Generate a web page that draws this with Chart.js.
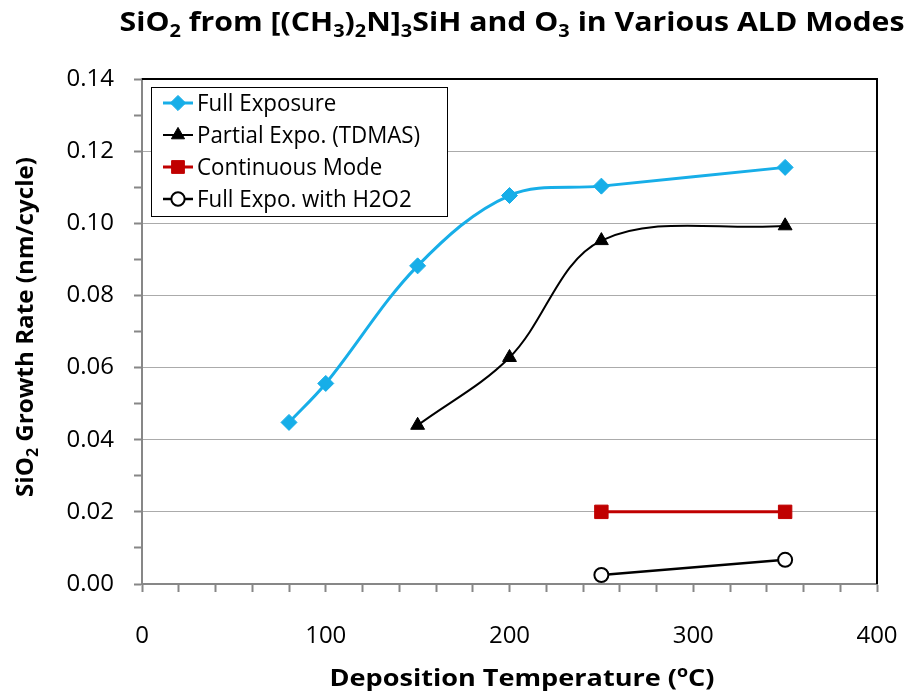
<!DOCTYPE html>
<html>
<head>
<meta charset="utf-8">
<script src="https://cdn.jsdelivr.net/npm/chart.js@4/dist/chart.umd.min.js"></script>
<style>
  html, body { margin: 0; padding: 0; background: #fff; }
  #wrap { width: 911px; height: 691px; }
</style>
</head>
<body>
<div id="wrap"><canvas id="chart" width="911" height="691"></canvas></div>
<script>
// data
const fullTemps = [80, 100, 150, 200, 250, 350];
const fullRates = [0.0448, 0.0556, 0.0882, 0.1077, 0.1103, 0.1155];
const partialTemps = [150, 200, 250, 350];
const partialRates = [0.0440, 0.0628, 0.0952, 0.0993];
const contTemps = [250, 350];
const contRates = [0.0200, 0.0200];
const h2o2Temps = [250, 350];
const h2o2Rates = [0.0025, 0.0067];

const seriesNames = ['Full Exposure', 'Partial Expo. (TDMAS)', 'Continuous Mode', 'Full Expo. with H2O2'];

// rich text pieces: [text, 0 normal | 1 subscript | 2 superscript]
const titleParts = [['SiO', 0], ['2', 1], [' from [(CH', 0], ['3', 1], [')', 0], ['2', 1], ['N]', 0], ['3', 1],
  ['SiH and O', 0], ['3', 1], [' in Various ALD Modes', 0]];
const xTitleParts = [['Deposition Temperature (', 0], ['o', 2], ['C)', 0]];
const yTitleParts = [['SiO', 0], ['2', 1], [' Growth Rate (nm/cycle)', 0]];

const FONT = '"Open Sans", "Liberation Sans", sans-serif';

const toXY = (xs, ys) => xs.map((x, i) => ({ x: x, y: ys[i] }));

function richWidth(ctx, parts, size) {
    let w = 0;
    parts.forEach(p => {
        ctx.font = 'bold ' + (p[1] ? size * 0.66 : size) + 'px ' + FONT;
        w += ctx.measureText(p[0]).width;
    });
    return w;
}

// draws centred on cx, squeezed or stretched horizontally to fit width
function drawRich(ctx, parts, size, cx, baseline, width) {
    const w = richWidth(ctx, parts, size);
    ctx.save();
    ctx.translate(cx, baseline);
    ctx.scale(width / w, 1);
    let x = -w / 2;
    ctx.textAlign = 'left';
    ctx.textBaseline = 'alphabetic';
    parts.forEach(p => {
        const s = p[1] ? size * 0.66 : size;
        ctx.font = 'bold ' + s + 'px ' + FONT;
        let dy = 0;
        if (p[1] === 1) dy = size * 0.22;
        if (p[1] === 2) dy = -size * 0.36;
        ctx.fillText(p[0], x, dy);
        x += ctx.measureText(p[0]).width;
    });
    ctx.restore();
}

// title, axis titles, black top/right frame and the boxed legend
const decorPlugin = {
    id: 'decor',
    afterDraw(chart) {
        const ctx = chart.ctx;
        const a = chart.chartArea;
        ctx.save();
        ctx.fillStyle = '#000';
        drawRich(ctx, titleParts, 27, 512, 31, 785);
        drawRich(ctx, xTitleParts, 24, 522, 686, 385);
        ctx.save();
        ctx.translate(33, 327);
        ctx.rotate(-Math.PI / 2);
        drawRich(ctx, yTitleParts, 24, 0, 0, 340);
        ctx.restore();

        // frame top and right
        ctx.strokeStyle = '#000';
        ctx.lineWidth = 2;
        ctx.beginPath();
        ctx.moveTo(a.left, a.top);
        ctx.lineTo(a.right, a.top);
        ctx.lineTo(a.right, a.bottom);
        ctx.stroke();

        // legend
        const lx = a.left + 9, ly = a.top + 8, lw = 296, lh = 129;
        ctx.fillStyle = '#fff';
        ctx.fillRect(lx, ly, lw, lh);
        ctx.strokeStyle = '#000';
        ctx.lineWidth = 1;
        ctx.strokeRect(lx + 0.5, ly + 0.5, lw, lh);
        chart.data.datasets.forEach((ds, i) => {
            const y = ly + 16 + i * 32;
            ctx.strokeStyle = ds.borderColor;
            ctx.lineWidth = ds.borderWidth;
            ctx.beginPath();
            ctx.moveTo(lx + 12, y);
            ctx.lineTo(lx + 42, y);
            ctx.stroke();
            ctx.fillStyle = ds.pointBackgroundColor;
            ctx.strokeStyle = ds.pointBorderColor;
            ctx.lineWidth = ds.pointBorderWidth;
            Chart.helpers.drawPoint(ctx, {
                pointStyle: ds.pointStyle,
                radius: ds.pointRadius * 0.95,
                rotation: 0,
                borderWidth: ds.pointBorderWidth
            }, lx + 27, y);
            ctx.fillStyle = '#000';
            ctx.font = '23px ' + FONT;
            ctx.textAlign = 'left';
            ctx.textBaseline = 'middle';
            ctx.save();
            ctx.translate(lx + 46, y + 1);
            ctx.scale(0.97, 1);
            ctx.fillText(ds.label, 0, 0);
            ctx.restore();
        });
        ctx.restore();
    }
};

new Chart(document.getElementById('chart'), {
    type: 'scatter',
    data: {
        datasets: [
            {
                label: seriesNames[0], data: toXY(fullTemps, fullRates), showLine: true, tension: 0.35,
                borderColor: '#17AEE8', borderWidth: 3, pointStyle: 'rectRot', pointRadius: 8,
                pointBackgroundColor: '#17AEE8', pointBorderColor: '#17AEE8', pointBorderWidth: 1
            },
            {
                label: seriesNames[1], data: toXY(partialTemps, partialRates), showLine: true, tension: 0.35,
                borderColor: '#000', borderWidth: 2, pointStyle: 'triangle', pointRadius: 8,
                pointBackgroundColor: '#000', pointBorderColor: '#000', pointBorderWidth: 1
            },
            {
                label: seriesNames[2], data: toXY(contTemps, contRates), showLine: true,
                borderColor: '#C00000', borderWidth: 3, pointStyle: 'rect', pointRadius: 9.5,
                pointBackgroundColor: '#C00000', pointBorderColor: '#C00000', pointBorderWidth: 1
            },
            {
                label: seriesNames[3], data: toXY(h2o2Temps, h2o2Rates), showLine: true,
                borderColor: '#000', borderWidth: 2.5, pointStyle: 'circle', pointRadius: 7,
                pointBackgroundColor: '#fff', pointBorderColor: '#000', pointBorderWidth: 2
            }
        ]
    },
    options: {
        responsive: false,
        animation: false,
        layout: { padding: { left: 0, right: 34, top: 79, bottom: 0 } },
        plugins: {
            legend: { display: false },
            title: { display: false },
            tooltip: { enabled: false }
        },
        scales: {
            x: {
                type: 'linear', min: 0, max: 400,
                border: { color: '#878787', width: 2 },
                grid: { drawOnChartArea: false, tickColor: '#878787', tickWidth: 2, tickLength: 8 },
                ticks: {
                    stepSize: 20, autoSkip: false, maxRotation: 0, padding: 30, color: '#000',
                    font: { family: FONT, size: 24 },
                    callback: v => (v % 100 === 0 ? String(v) : '')
                },
                afterFit: s => { s.height = 107; s.paddingLeft = 0; s.paddingRight = 0; }
            },
            y: {
                min: 0, max: 0.14,
                border: { color: '#878787', width: 2 },
                grid: {
                    color: c => (c.tick && Math.round(c.tick.value * 100) % 2 === 0 ? '#ABABAB' : 'rgba(0,0,0,0)'),
                    tickColor: '#878787', tickWidth: 2, tickLength: 8
                },
                ticks: {
                    stepSize: 0.01, autoSkip: false, padding: 20, color: '#000',
                    font: { family: FONT, size: 24 },
                    callback: v => (Math.round(v * 100) % 2 === 0 ? v.toFixed(2) : '')
                },
                afterFit: s => { s.width = 142; s.paddingTop = 0; s.paddingBottom = 0; }
            }
        }
    },
    plugins: [decorPlugin]
});
</script>
</body>
</html>
